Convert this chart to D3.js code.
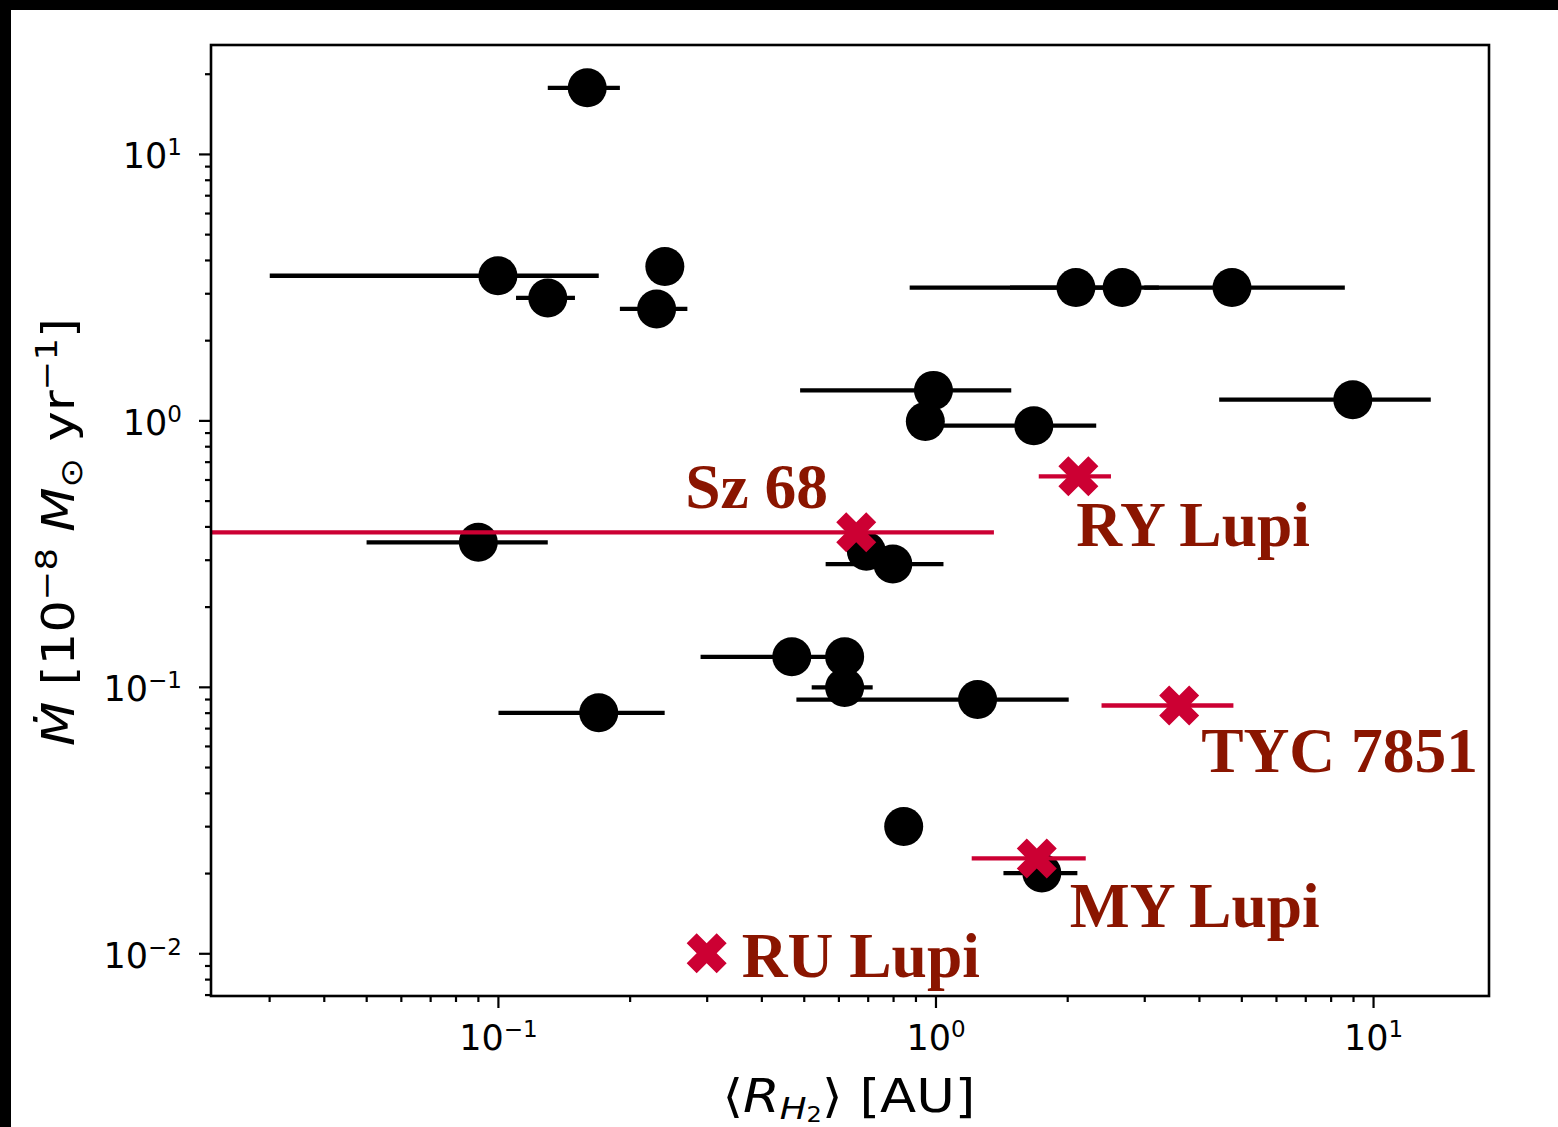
<!DOCTYPE html>
<html><head><meta charset="utf-8">
<script src="https://cdn.jsdelivr.net/npm/d3@7"></script>
<style>body{margin:0;background:#fff;overflow:hidden}</style>
</head><body>
<svg id="c" width="1558" height="1127"></svg>
<script>
// ---------- data ----------
const blackR    = [0.160, 0.100, 0.130, 0.2407, 0.2305, 2.094, 2.67, 4.76, 0.9895, 0.948, 1.678, 8.99, 0.0902, 0.695, 0.799, 0.170, 0.4695, 0.620, 0.620, 1.248, 0.846, 1.75];
const blackMdot = [17.7, 3.49, 2.88, 3.78, 2.62, 3.15, 3.15, 3.15, 1.296, 0.991, 0.955, 1.196, 0.3486, 0.3225, 0.289, 0.0799, 0.1296, 0.1296, 0.0995, 0.0896, 0.0299, 0.0200];
const blackRmin = [0.130, 0.0301, 0.110, null, 0.190, 0.873, 1.48, 3.0, 0.4905, null, 0.97, 4.45, 0.0501, null, 0.561, 0.1003, 0.2905, null, 0.5213, 0.481, null, 1.43];
const blackRmax = [0.190, 0.170, 0.150, null, 0.271, 2.67, 3.24, 8.62, 1.49, null, 2.33, 13.55, 0.130, null, 1.043, 0.2405, 0.62, null, 0.7186, 2.016, null, 2.11];

const redNames = ["Sz 68", "RY Lupi", "TYC 7851", "MY Lupi", "RU Lupi"];
const redR     = [0.659, 2.121, 3.605, 1.704, 0.300];
const redMdot  = [0.380, 0.6166, 0.0851, 0.0227, 0.0100];
const redRmin  = [0.005, 1.722, 2.396, 1.21, null];
const redRmax  = [1.36, 2.518, 4.796, 2.205, null];

const xMajorTicks = [0.1, 1, 10];
const xMajorExp   = ["\u22121", "0", "1"];
const yMajorTicks = [0.01, 0.1, 1, 10];
const yMajorExp   = ["\u22122", "\u22121", "0", "1"];

// ---------- layout ----------
const L = 211, R = 1489, T = 45, B = 996;
const svg = d3.select("#c");

svg.append("rect").attr("x",0).attr("y",0).attr("width",1558).attr("height",10).attr("fill","#000");
svg.append("rect").attr("x",0).attr("y",0).attr("width",11).attr("height",1127).attr("fill","#000");

const x = d3.scaleLog().domain([Math.pow(10,-1.6557), Math.pow(10,1.2650)]).range([L, R]);
const y = d3.scaleLog().domain([Math.pow(10,-2.1603), Math.pow(10,1.4088)]).range([B, T]);

svg.append("defs").append("clipPath").attr("id","clip")
  .append("rect").attr("x",L).attr("y",T).attr("width",R-L).attr("height",B-T);

// ---------- axes ----------
function styleAxis(g){
  g.select(".domain").remove();
  g.selectAll(".tick line").attr("stroke","#000").attr("stroke-width",2.2);
}
const xMinor = x.ticks().filter(v => !xMajorTicks.some(m => Math.abs(m - v)/m < 1e-6));
const yMinor = y.ticks().filter(v => !yMajorTicks.some(m => Math.abs(m - v)/m < 1e-6));

svg.append("g").attr("transform",`translate(0,${B})`)
  .call(d3.axisBottom(x).tickValues(xMinor).tickSize(6).tickFormat(""))
  .call(styleAxis);
svg.append("g").attr("transform",`translate(${L},0)`)
  .call(d3.axisLeft(y).tickValues(yMinor).tickSize(6).tickFormat(""))
  .call(styleAxis);

const gx = svg.append("g").attr("transform",`translate(0,${B})`)
  .call(d3.axisBottom(x).tickValues(xMajorTicks).tickSize(12).tickPadding(8).tickFormat(""))
  .call(styleAxis);
const gy = svg.append("g").attr("transform",`translate(${L},0)`)
  .call(d3.axisLeft(y).tickValues(yMajorTicks).tickSize(12).tickPadding(8).tickFormat(""))
  .call(styleAxis);

const tickFont = "DejaVu Sans";
gx.selectAll(".tick").each(function(d,i){
  const t = d3.select(this).append("text")
    .attr("x",0).attr("y",54).attr("text-anchor","middle")
    .attr("font-family",tickFont).attr("font-size",35).attr("fill","#000");
  t.append("tspan").text("10");
  t.append("tspan").attr("dy",-13).attr("font-size",23).text(xMajorExp[i]);
});
gy.selectAll(".tick").each(function(d,i){
  const t = d3.select(this).append("text")
    .attr("x",-29).attr("y",14).attr("text-anchor","end")
    .attr("font-family",tickFont).attr("font-size",35).attr("fill","#000");
  t.append("tspan").text("10");
  t.append("tspan").attr("dy",-13).attr("font-size",23).text(yMajorExp[i]);
});

// ---------- data marks ----------
const plot = svg.append("g").attr("clip-path","url(#clip)");
const black = blackR.map((r,i)=>({r, m:blackMdot[i], lo:blackRmin[i], hi:blackRmax[i]}));
const red = redR.map((r,i)=>({r, m:redMdot[i], lo:redRmin[i], hi:redRmax[i], name:redNames[i]}));

plot.selectAll("line.eb").data(black.filter(d=>d.lo!==null)).join("line")
  .attr("class","eb")
  .attr("x1",d=>x(d.lo)).attr("x2",d=>x(d.hi))
  .attr("y1",d=>y(d.m)).attr("y2",d=>y(d.m))
  .attr("stroke","#000").attr("stroke-width",4.3);
plot.selectAll("circle.pt").data(black).join("circle")
  .attr("class","pt")
  .attr("cx",d=>x(d.r)).attr("cy",d=>y(d.m)).attr("r",19.5).attr("fill","#000");

const redCol = "#cc0033";
plot.selectAll("line.reb").data(red.filter(d=>d.lo!==null)).join("line")
  .attr("class","reb")
  .attr("x1",d=>x(d.lo)).attr("x2",d=>x(d.hi))
  .attr("y1",d=>y(d.m)).attr("y2",d=>y(d.m))
  .attr("stroke",redCol).attr("stroke-width",4.3);

const xShape = [[-1,-2],[0,-1],[1,-2],[2,-1],[1,0],[2,1],[1,2],[0,1],[-1,2],[-2,1],[-1,0],[-2,-1]].map(p=>[p[0]*10, p[1]*10]);
const xPath = d3.line()(xShape) + "Z";
plot.selectAll("path.xm").data(red).join("path")
  .attr("class","xm")
  .attr("transform",d=>`translate(${x(d.r)},${y(d.m)})`)
  .attr("d",xPath).attr("fill",redCol);

// labels
const labelOff = {"Sz 68":[-171,-24], "RY Lupi":[-2,70], "TYC 7851":[22,66], "MY Lupi":[33,69], "RU Lupi":[35,24]};
svg.selectAll("text.lab").data(red).join("text")
  .attr("class","lab")
  .attr("x",d=>x(d.r)+labelOff[d.name][0]).attr("y",d=>y(d.m)+labelOff[d.name][1])
  .attr("font-family","Liberation Serif").attr("font-weight","bold").attr("font-size",63.5)
  .attr("fill","#8a1500").text(d=>d.name);

// frame
svg.append("rect").attr("x",L).attr("y",T).attr("width",R-L).attr("height",B-T)
  .attr("fill","none").attr("stroke","#000").attr("stroke-width",2.6);

// axis labels
const xl = svg.append("text").attr("x",(L+R)/2 - 1).attr("y",1112).attr("text-anchor","middle")
  .attr("font-family","DejaVu Sans").attr("font-size",46).attr("fill","#000")
  .attr("textLength",253).attr("lengthAdjust","spacingAndGlyphs");
xl.append("tspan").text("\u27E8");
xl.append("tspan").attr("font-style","italic").text("R");
xl.append("tspan").attr("font-style","italic").attr("font-size",31).attr("dy",7).text("H");
xl.append("tspan").attr("font-size",21).attr("dy",3).text("2");
xl.append("tspan").attr("dy",-10).text("\u27E9 [AU]");

const yl = svg.append("text").attr("transform","translate(74,532) rotate(-90)").attr("text-anchor","middle")
  .attr("font-family","DejaVu Sans").attr("font-size",45).attr("fill","#000")
  .attr("textLength",428).attr("lengthAdjust","spacingAndGlyphs");
yl.append("tspan").attr("font-style","italic").text("\u1E40");
yl.append("tspan").text(" [10");
yl.append("tspan").attr("font-size",31).attr("dy",-17).text("\u22128");
yl.append("tspan").attr("dy",17).text(" ");
yl.append("tspan").attr("font-style","italic").text("M");
yl.append("tspan").attr("font-size",31).attr("dy",8).text("\u2299");
yl.append("tspan").attr("dy",-8).text(" yr");
yl.append("tspan").attr("font-size",31).attr("dy",-17).text("\u22121");
yl.append("tspan").attr("dy",17).text("]");
</script>
</body></html>
